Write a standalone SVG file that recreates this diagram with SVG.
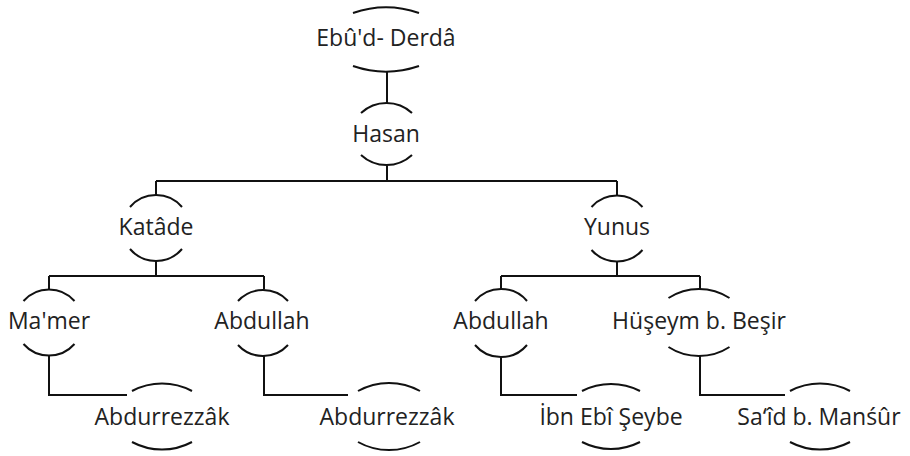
<svg xmlns="http://www.w3.org/2000/svg" width="910" height="456" viewBox="0 0 910 456">
<style>
.arc{fill:none;stroke:#111;stroke-width:2}
.ln{fill:none;stroke:#111;stroke-width:2}
text{font-family:"Open Sans","Noto Sans",sans-serif;font-size:23px;fill:#222;text-anchor:middle}
</style>
<rect width="910" height="456" fill="#fff"/>
<g id="connectors">
<path class="ln" d="M387 71.5V103"/>
<path class="ln" d="M387 165.5V181M156 181H617M156 181V195M617 181V195"/>
<path class="ln" d="M156 261V276M49 276H264M49 276V289.5M264 276V289.5"/>
<path class="ln" d="M617 262V276M501 276H700M501 276V289.5M700 276V289"/>
<path class="ln" d="M49 355.5V395H127"/>
<path class="ln" d="M264 356V395H348"/>
<path class="ln" d="M501 356V395H577"/>
<path class="ln" d="M700 356V395H785"/>
</g>
<g id="n-ebud">
<path class="arc" d="M353 13A101.7 101.7 0 0 1 419 13M353 66A101.7 101.7 0 0 0 419 66"/>
<text x="386" y="46">Ebû'd- Derdâ</text>
</g>
<g id="n-hasan">
<path class="arc" d="M361 113A37.5 37.5 0 0 1 412 113M361 155A37.5 37.5 0 0 0 412 155"/>
<text x="386" y="142">Hasan</text>
</g>
<g id="n-katade">
<path class="arc" d="M130 207A34.2 34.2 0 0 1 182 207M130 249A34.2 34.2 0 0 0 182 249"/>
<text x="156" y="235">Katâde</text>
</g>
<g id="n-yunus">
<path class="arc" d="M591.5 207A34.2 34.2 0 0 1 642.5 207M591.5 250A34.2 34.2 0 0 0 642.5 250"/>
<text x="617" y="235">Yunus</text>
</g>
<g id="n-mamer">
<path class="arc" d="M23.5 301A34 34 0 0 1 74.5 301M23.5 344A34 34 0 0 0 74.5 344"/>
<text x="49" y="329">Ma'mer</text>
</g>
<g id="n-abdullah1">
<path class="arc" d="M238 301A34 34 0 0 1 288 301M238 345A34 34 0 0 0 288 345"/>
<text x="262" y="329">Abdullah</text>
</g>
<g id="n-abdullah2">
<path class="arc" d="M475 301A34 34 0 0 1 527 301M475 345A34 34 0 0 0 527 345"/>
<text x="501" y="329">Abdullah</text>
</g>
<g id="n-huseym">
<path class="arc" d="M668.5 298A56 56 0 0 1 729.5 298M668.5 347A56 56 0 0 0 729.5 347"/>
<text x="699" y="329">Hüşeym b. Beşir</text>
</g>
<g id="n-abdurrezzak1">
<path class="arc" d="M132 391A63.7 63.7 0 0 1 192 391M132 442A63.7 63.7 0 0 0 192 442"/>
<text x="162" y="425">Abdurrezzâk</text>
</g>
<g id="n-abdurrezzak2">
<path class="arc" d="M358 391A63.7 63.7 0 0 1 420 391M358 442A63.7 63.7 0 0 0 420 442"/>
<text x="387" y="425">Abdurrezzâk</text>
</g>
<g id="n-ibnebi">
<path class="arc" d="M582 391A63.7 63.7 0 0 1 640 391M582 442A63.7 63.7 0 0 0 640 442"/>
<text x="611" y="425">İbn Ebî Şeybe</text>
</g>
<g id="n-said">
<path class="arc" d="M790 391A63.7 63.7 0 0 1 850 391M790 442A63.7 63.7 0 0 0 850 442"/>
<text x="819" y="425">Sa‘îd b. Manśûr</text>
</g>
</svg>
